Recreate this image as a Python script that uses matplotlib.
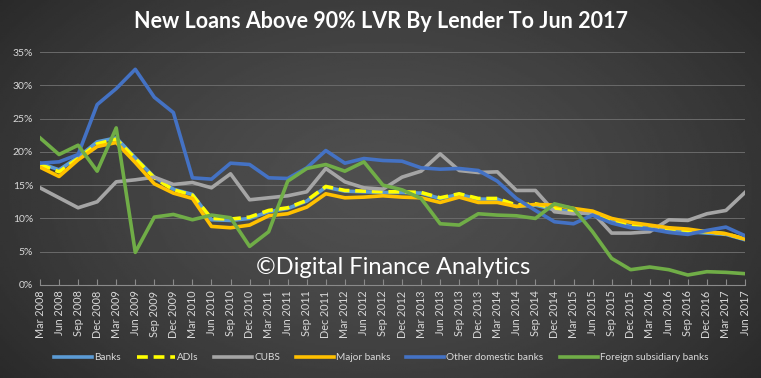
import numpy as np
import matplotlib
matplotlib.use("Agg")
import matplotlib.pyplot as plt
from matplotlib.ticker import FuncFormatter

plt.rcParams['font.family'] = ['Lato', 'DejaVu Sans']

# quarterly labels Mar 2008 .. Jun 2017
months = ['Mar', 'Jun', 'Sep', 'Dec']
quarters = [m + ' ' + str(y) for y in range(2008, 2018) for m in months][:38]

banks = [18.3, 17.3, 19.2, 21.5, 22.1, 19.1, 16.2, 14.4, 13.6, 9.8, 9.7, 10.0, 11.0,
         11.5, 12.6, 14.7, 14.1, 14.0, 13.9, 13.9, 13.8, 13.0, 13.6, 12.9, 12.9, 11.8,
         12.0, 11.3, 11.0, 10.6, 9.5, 8.8, 8.5, 8.3, 8.0, 7.8, 7.6, 6.8]
adis = [18.1, 17.0, 19.0, 21.2, 21.9, 19.0, 16.1, 14.3, 13.5, 10.0, 9.9, 10.2, 11.2,
        11.6, 12.7, 14.8, 14.2, 14.1, 14.0, 14.0, 13.9, 13.1, 13.7, 13.0, 13.0, 12.0,
        12.2, 11.5, 11.2, 10.8, 9.7, 9.0, 8.7, 8.5, 8.2, 8.0, 7.7, 6.9]
cubs = [14.6, 13.1, 11.6, 12.5, 15.5, 15.8, 16.2, 15.1, 15.4, 14.6, 16.7, 12.8, 13.1,
        13.4, 14.0, 17.5, 15.5, 14.6, 14.4, 16.2, 17.1, 19.7, 17.2, 16.9, 17.0, 14.2,
        14.2, 11.0, 10.7, 10.9, 7.8, 7.8, 8.0, 9.8, 9.7, 10.7, 11.2, 13.9]
major = [17.7, 16.3, 18.8, 20.8, 21.4, 18.4, 15.2, 13.8, 13.0, 8.8, 8.6, 9.0, 10.4,
         10.7, 11.7, 13.7, 13.1, 13.2, 13.4, 13.2, 13.1, 12.4, 13.2, 12.4, 12.4, 11.8,
         12.1, 12.0, 11.5, 11.1, 10.0, 9.4, 9.0, 8.6, 8.4, 8.0, 7.7, 6.9]
other_dom = [18.3, 18.5, 19.6, 27.1, 29.5, 32.4, 28.2, 25.9, 16.1, 15.9, 18.3, 18.1, 16.1,
             16.0, 17.6, 20.2, 18.3, 19.0, 18.7, 18.6, 17.6, 17.4, 17.5, 17.2, 15.6, 13.0,
             11.2, 9.5, 9.2, 10.5, 9.3, 8.6, 8.4, 7.9, 7.6, 8.2, 8.7, 7.4]
foreign = [22.1, 19.6, 21.0, 17.1, 23.6, 4.9, 10.2, 10.6, 9.8, 10.5, 10.1, 5.8, 8.0,
           15.6, 17.5, 18.1, 17.1, 18.5, 15.0, 14.3, 13.0, 9.2, 9.0, 10.7, 10.5, 10.4,
           10.0, 12.2, 11.5, 8.0, 4.0, 2.3, 2.7, 2.3, 1.5, 2.0, 1.9, 1.7]

fig = plt.figure(figsize=(7.61, 3.78), dpi=100)

# dark radial background
bg = fig.add_axes([0, 0, 1, 1], zorder=-10)
yy, xx = np.mgrid[0:1:200j, 0:1:400j]
r = np.sqrt(((xx - 0.5) / 0.7) ** 2 + ((yy - 0.5) / 0.9) ** 2)
shade = 0.31 - 0.17 * np.clip(r, 0, 1) ** 1.5
bg.imshow(shade, cmap='gray', vmin=0, vmax=1, aspect='auto', extent=[0, 1, 0, 1])
bg.axis('off')

ax = fig.add_axes([40 / 761, 1 - 285 / 378, 705 / 761, 233 / 378])
ax.set_facecolor('none')
x = np.arange(len(quarters))
lw = 2.6
ax.plot(x, np.array(banks) / 100, color='#5b9bd5', lw=lw, label='Banks')
ax.plot(x, np.array(adis) / 100, color='#ffff00', lw=lw, dashes=(3, 1.6), label='ADIs')
ax.plot(x, np.array(cubs) / 100, color='#a5a5a5', lw=lw, label='CUBS')
ax.plot(x, np.array(major) / 100, color='#ffc000', lw=lw, label='Major banks')
ax.plot(x, np.array(other_dom) / 100, color='#4472c4', lw=lw, label='Other domestic banks')
ax.plot(x, np.array(foreign) / 100, color='#70ad47', lw=lw, label='Foreign subsidiary banks')

ax.set_xlim(0, len(quarters) - 1)
ax.set_ylim(0, 0.35)
ax.set_yticks(np.arange(0, 0.351, 0.05))
ax.yaxis.set_major_formatter(FuncFormatter(lambda v, p: '%d%%' % round(v * 100)))
ax.set_xticks(x)
ax.set_xticklabels(quarters, rotation=90)
ax.grid(axis='y', color='#6a6a6a', lw=0.7)
ax.set_axisbelow(True)
for s in ['top', 'right', 'left']:
    ax.spines[s].set_visible(False)
ax.spines['bottom'].set_color('#8a8a8a')
ax.tick_params(axis='y', length=0, colors='#d9d9d9', labelsize=7.5, pad=5)
ax.tick_params(axis='x', colors='#8a8a8a', labelcolor='#d9d9d9', labelsize=7.8,
               length=4, direction='in', pad=4)

fig.text(0.5, 1 - 22 / 378, 'New Loans Above 90% LVR By Lender To Jun 2017',
         ha='center', va='center', color='white', fontsize=15.5, fontweight='bold')
fig.text(256 / 761, 1 - 268 / 378, '\u00a9Digital Finance Analytics', ha='left',
         va='center', color='white', fontsize=17)

leg = fig.legend(loc='center', bbox_to_anchor=(381 / 761, 1 - 358 / 378), ncol=6,
                 frameon=False, fontsize=7.2, handlelength=3.8, handletextpad=0.2,
                 columnspacing=1.6)
for t in leg.get_texts():
    t.set_color('#d9d9d9')

fig.savefig('out.png', dpi=100)
